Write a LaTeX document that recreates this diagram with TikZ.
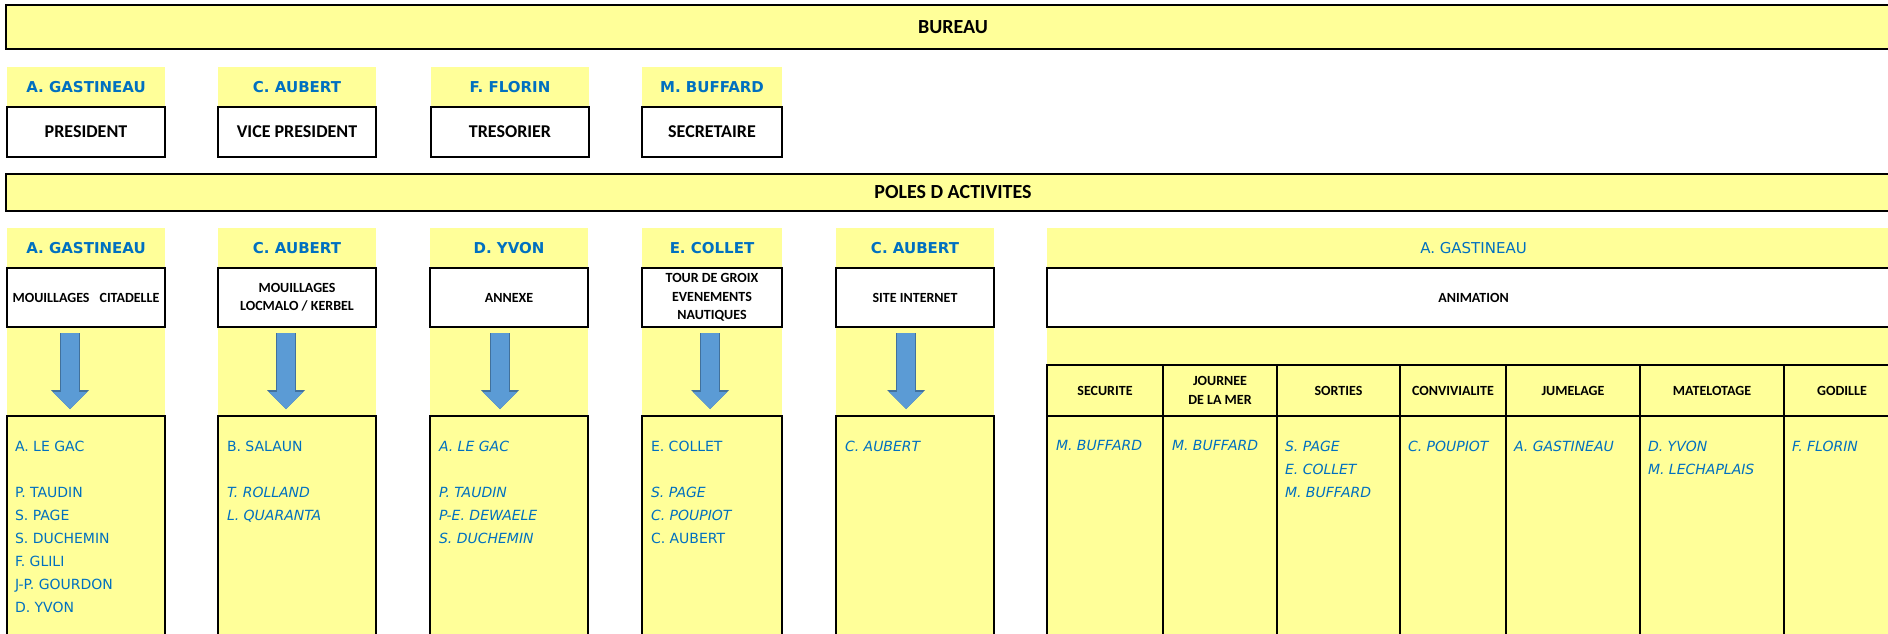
\documentclass[tikz,border=0pt]{standalone}
\usepackage{fontspec}
\setmainfont{Carlito}
\newfontfamily\nomfont{DejaVu Sans}
\usepackage{tikz}
\usetikzlibrary{positioning, arrows.meta}
\definecolor{jaune}{HTML}{FFFF99}
\definecolor{bleu}{HTML}{0070C0}
\definecolor{flecheclair}{HTML}{5B9BD5}
\definecolor{flechebord}{HTML}{41719C}
\tikzset{cadre/.style = {
  % Rectangle:
  rectangle,
  draw=black, line width=1.4pt,
  inner sep=0pt, outer sep=0pt,
  align=center
  }}
\tikzset{bandeau/.style = {
  % Rectangle:
  cadre,
  fill=jaune, anchor=north west,
  minimum width=947pt,
  % Text
  font=\bfseries\fontsize{10}{12}\selectfont
  }}
\tikzset{nom/.style = {
  % Rectangle:
  rectangle, fill=jaune, anchor=north west,
  inner sep=0pt, outer sep=0pt,
  minimum height=20pt,
  % Text
  text=bleu, font=\nomfont\bfseries\fontsize{7.5}{9}\selectfont
  }}
\tikzset{fonction/.style = {
  % Rectangle:
  cadre, fill=white,
  minimum height=25pt,
  % Text
  font=\bfseries\fontsize{9}{11}\selectfont
  }}
\tikzset{pole/.style = {
  % Rectangle:
  cadre, fill=white,
  minimum height=29.5pt,
  % Text
  font=\bfseries\fontsize{7}{9.2}\selectfont
  }}
\tikzset{equipe/.style = {
  % Rectangle:
  cadre, fill=jaune,
  minimum height=112pt
  }}
\tikzset{entete/.style = {
  % Rectangle:
  cadre, fill=jaune, anchor=north west,
  minimum height=25.5pt,
  % Text
  font=\bfseries\fontsize{7}{9.2}\selectfont
  }}
\tikzset{membres/.style = {
  % Text
  anchor=north west, inner sep=0pt, outer sep=0pt,
  align=left, text=bleu,
  font=\nomfont\fontsize{7}{11.5}\selectfont
  }}
\tikzset{membresit/.style = {
  membres,
  font=\nomfont\itshape\fontsize{7}{11.5}\selectfont
  }}
\tikzset{fleche/.style = {
  draw=flecheclair, line width=9pt,
  -{Triangle[width=17pt, length=8.5pt, line width=0pt]},
  preaction={draw=flechebord, line width=10pt,
    -{Triangle[width=19pt, length=9.5pt, line width=0pt]}}
  }}

\begin{document}
\begin{tikzpicture}[x=0.5pt, y=-0.5pt]
\useasboundingbox (0,0) rectangle (1888,633);
\clip (0,0) rectangle (1888,633);

% BUREAU
\node (bureau) [bandeau, minimum height=22pt] at (6,5) {BUREAU};

\node (nomPres) [nom, minimum width=79pt] at (7,67) {A. GASTINEAU};
\node (pres) [fonction, minimum width=79pt, below=0pt of nomPres] {PRESIDENT};
\node (nomVice) [nom, minimum width=79pt] at (218,67) {C. AUBERT};
\node (vice) [fonction, minimum width=79pt, below=0pt of nomVice] {VICE PRESIDENT};
\node (nomTres) [nom, minimum width=79pt] at (431,67) {F. FLORIN};
\node (tres) [fonction, minimum width=79pt, below=0pt of nomTres] {TRESORIER};
\node (nomSecr) [nom, minimum width=70pt] at (642,67) {M. BUFFARD};
\node (secr) [fonction, minimum width=70pt, below=0pt of nomSecr] {SECRETAIRE};

% POLES
\node (poles) [bandeau, minimum height=18.5pt] at (6,174) {POLES D ACTIVITES};

\fill [jaune] (7,228) rectangle (165,640);
\fill [jaune] (218,228) rectangle (376,640);
\fill [jaune] (430,228) rectangle (588,640);
\fill [jaune] (642,228) rectangle (782,640);
\fill [jaune] (836,228) rectangle (994,640);
\fill [jaune] (1047,228) rectangle (1900,640);

\node (nomA) [nom, minimum width=79pt] at (7,228) {A. GASTINEAU};
\node (mouilA) [pole, minimum width=79pt, below=0pt of nomA] {MOUILLAGES\hspace{5pt}CITADELLE};
\node (listeA) [equipe, minimum width=79pt, below=44.5pt of mouilA] {};
\node (membresA) [membres, below right=12.3pt and 4pt of listeA.north west]
  {A. LE GAC\\[11.5pt]P. TAUDIN\\S. PAGE\\S. DUCHEMIN\\F. GLILI\\J-P. GOURDON\\D. YVON};

\node (nomB) [nom, minimum width=79pt] at (218,228) {C. AUBERT};
\node (mouilB) [pole, minimum width=79pt, below=0pt of nomB] {MOUILLAGES\\LOCMALO / KERBEL};
\node (listeB) [equipe, minimum width=79pt, below=44.5pt of mouilB] {};
\node (membresB) [membres, below right=12.3pt and 4.5pt of listeB.north west]
  {B. SALAUN\\[11.5pt]{\itshape T. ROLLAND}\\{\itshape L. QUARANTA}};

\node (nomC) [nom, minimum width=79pt] at (430,228) {D. YVON};
\node (annexe) [pole, minimum width=79pt, below=0pt of nomC] {ANNEXE};
\node (listeC) [equipe, minimum width=79pt, below=44.5pt of annexe] {};
\node (membresC) [membresit, below right=12.3pt and 4.5pt of listeC.north west]
  {A. LE GAC\\[11.5pt]P. TAUDIN\\P-E. DEWAELE\\S. DUCHEMIN};

\node (nomD) [nom, minimum width=70pt] at (642,228) {E. COLLET};
\node (tour) [pole, minimum width=70pt, below=0pt of nomD] {TOUR DE GROIX\\EVENEMENTS\\NAUTIQUES};
\node (listeD) [equipe, minimum width=70pt, below=44.5pt of tour] {};
\node (membresD) [membres, below right=12.3pt and 4.5pt of listeD.north west]
  {E. COLLET\\[11.5pt]{\itshape S. PAGE}\\{\itshape C. POUPIOT}\\C. AUBERT};

\node (nomE) [nom, minimum width=79pt] at (836,228) {C. AUBERT};
\node (site) [pole, minimum width=79pt, below=0pt of nomE] {SITE INTERNET};
\node (listeE) [equipe, minimum width=79pt, below=44.5pt of site] {};
\node (membresE) [membresit, below right=12.3pt and 4.5pt of listeE.north west] {C. AUBERT};

% ANIMATION
\node (nomF) [nom, minimum width=426.5pt, font=\nomfont\fontsize{7.5}{9}\selectfont] at (1047,228) {A. GASTINEAU};
\node (anim) [pole, minimum width=426.5pt, below=0pt of nomF] {ANIMATION};

\node (secu) [entete, minimum width=58pt, below right=19pt and 0pt of anim.south west] {SECURITE};
\node (journee) [entete, minimum width=57pt, right=0pt of secu] {JOURNEE\\DE LA MER};
\node (sorties) [entete, minimum width=61.5pt, right=0pt of journee] {SORTIES};
\node (convi) [entete, minimum width=53pt, right=0pt of sorties] {CONVIVIALITE};
\node (jumel) [entete, minimum width=67pt, right=0pt of convi] {JUMELAGE};
\node (matelo) [entete, minimum width=72pt, right=0pt of jumel] {MATELOTAGE};
\node (godille) [entete, minimum width=58pt, right=0pt of matelo] {GODILLE};

\node (eqSecu) [equipe, minimum width=58pt, below=0pt of secu] {};
\node (eqJournee) [equipe, minimum width=57pt, below=0pt of journee] {};
\node (eqSorties) [equipe, minimum width=61.5pt, below=0pt of sorties] {};
\node (eqConvi) [equipe, minimum width=53pt, below=0pt of convi] {};
\node (eqJumel) [equipe, minimum width=67pt, below=0pt of jumel] {};
\node (eqMatelo) [equipe, minimum width=72pt, below=0pt of matelo] {};
\node (eqGodille) [equipe, minimum width=58pt, below=0pt of godille] {};

\node (mbSecu) [membresit, below right=12.3pt and 4.5pt of eqSecu.north west] {M. BUFFARD};
\node (mbJournee) [membresit, below right=12.3pt and 4.5pt of eqJournee.north west] {M. BUFFARD};
\node (mbSorties) [membresit, below right=12.3pt and 4pt of eqSorties.north west] {S. PAGE\\E. COLLET\\M. BUFFARD};
\node (mbConvi) [membresit, below right=12.3pt and 4pt of eqConvi.north west] {C. POUPIOT};
\node (mbJumel) [membresit, below right=12.3pt and 4pt of eqJumel.north west] {A. GASTINEAU};
\node (mbMatelo) [membresit, below right=12.3pt and 4pt of eqMatelo.north west] {D. YVON\\M. LECHAPLAIS};
\node (mbGodille) [membresit, below right=12.3pt and 4pt of eqGodille.north west] {F. FLORIN};

% arrows
\draw [fleche] ([xshift=-8pt, yshift=-3pt]mouilA.south) -- ([xshift=-8pt, yshift=3.5pt]listeA.north);
\draw [fleche] ([xshift=-5.5pt, yshift=-3pt]mouilB.south) -- ([xshift=-5.5pt, yshift=3.5pt]listeB.north);
\draw [fleche] ([xshift=-4.5pt, yshift=-3pt]annexe.south) -- ([xshift=-4.5pt, yshift=3.5pt]listeC.north);
\draw [fleche] ([xshift=-1pt, yshift=-3pt]tour.south) -- ([xshift=-1pt, yshift=3.5pt]listeD.north);
\draw [fleche] ([xshift=-4.5pt, yshift=-3pt]site.south) -- ([xshift=-4.5pt, yshift=3.5pt]listeE.north);
\end{tikzpicture}
\end{document}
